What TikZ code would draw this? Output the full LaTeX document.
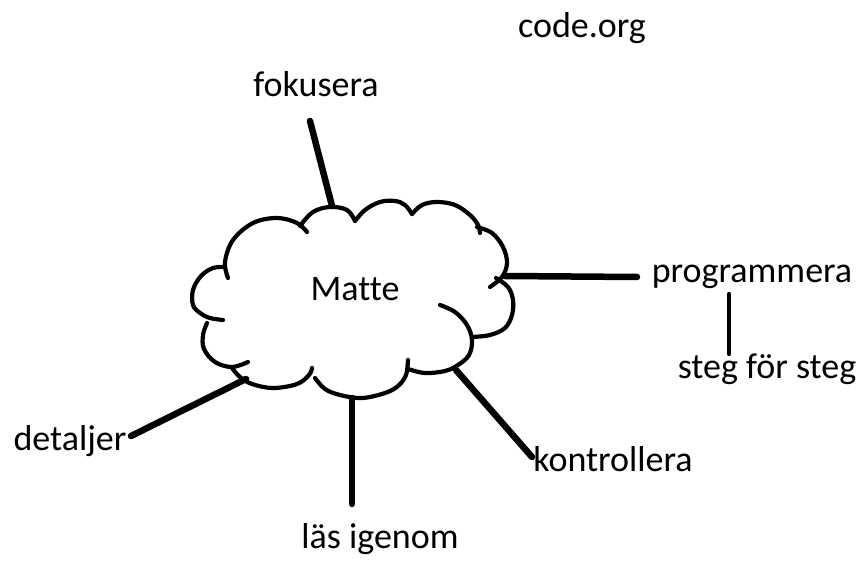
\documentclass[tikz,border=0pt]{standalone}
\usepackage{fontspec}
\setmainfont{Carlito}[Ligatures=NoCommon]
\begin{document}
\begin{tikzpicture}[x=1pt,y=-1pt,
  lbl/.style={inner sep=0pt,anchor=base,font=\fontsize{36}{42}\selectfont},
  cloudline/.style={line width=4.2pt,line cap=round,line join=round},
  conn/.style={line width=6.5pt,line cap=round},
  thinconn/.style={line width=4.5pt,line cap=round}]
\useasboundingbox (0,0) rectangle (862,561);
% labels
\node[lbl] (code) at (582,38) {code.org};
\node[lbl] (fok) at (316,97) {fokusera};
\node[lbl] (prog) at (752,283) {programmera};
\node[lbl] (steg) at (767,378) {steg för steg};
\node[lbl] (matte) at (355,301) {Matte};
\node[lbl] (kontr) at (613,471) {kontrollera};
\node[lbl] (las) at (380,548) {läs igenom};
\node[lbl] (det) at (70,450) {detaljer};
% cloud
\draw[cloudline] plot[smooth,tension=0.6] coordinates {(228,278) (225,262) (233,240) (253,223) (277,218) (297,223) (307,232)};
\draw[cloudline] plot[smooth,tension=0.6] coordinates {(300,226) (313,212) (330,207) (347,210) (355,221)};
\draw[cloudline] plot[smooth,tension=0.6] coordinates {(355,221) (365,210) (380,202) (395,201) (405,205) (412,214)};
\draw[cloudline] plot[smooth,tension=0.6] coordinates {(412,214) (422,205) (437,202) (455,205) (470,215) (478,225) (480,233)};
\draw[cloudline] plot[smooth,tension=0.6] coordinates {(477,227) (492,233) (503,247) (507,263) (502,277) (490,287)};
\draw[cloudline] plot[smooth,tension=0.6] coordinates {(496,278) (508,287) (513,300) (512,315) (505,328) (490,335) (472,337)};
\draw[cloudline] plot[smooth,tension=0.6] coordinates {(440,305) (455,312) (467,325) (472,340) (469,355) (458,365) (445,371) (425,373) (408,369)};
\draw[cloudline] plot[smooth,tension=0.6] coordinates {(408,360) (406,375) (398,386) (385,393) (362,398) (340,395) (325,389) (315,378)};
\draw[cloudline] plot[smooth,tension=0.6] coordinates {(232,368) (240,377) (252,384) (273,388) (297,384) (309,375) (312,368)};
\draw[cloudline] plot[smooth,tension=0.6] coordinates {(207,323) (203,335) (204,349) (215,362) (232,367) (248,362)};
\draw[cloudline] plot[smooth,tension=0.6] coordinates {(225,267) (213,268) (201,276) (193,290) (193,305) (200,313) (210,318) (223,320)};
% connector ends
\coordinate (fokA) at (332,206);
\coordinate (fokB) at (310,121);
\coordinate (progA) at (505,276);
\coordinate (progB) at (637,277);
\coordinate (stegA) at (729,294);
\coordinate (stegB) at (729,354);
\coordinate (kontrA) at (456,370);
\coordinate (kontrB) at (532,457);
\coordinate (lasA) at (352,398);
\coordinate (lasB) at (352,504);
\coordinate (detA) at (246,379);
\coordinate (detB) at (131,436);
\draw[conn] (fokA) -- (fokB);
\draw[conn] (progA) -- (progB);
\draw[thinconn] (stegA) -- (stegB);
\draw[conn] (kontrA) -- (kontrB);
\draw[conn] (lasA) -- (lasB);
\draw[conn] (detA) -- (detB);
\end{tikzpicture}
\end{document}
